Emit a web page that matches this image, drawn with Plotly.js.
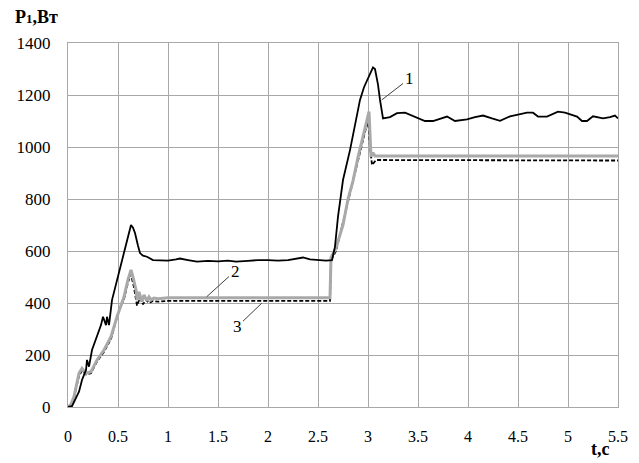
<!DOCTYPE html>
<html>
<head>
<meta charset="utf-8">
<script src="https://cdn.plot.ly/plotly-3.0.1.min.js"></script>
<style>html,body{margin:0;padding:0;background:#fff;}#chart{width:639px;height:463px;}</style>
</head>
<body>
<div id="chart"></div>
<script>
// Curve 1 (black solid)
const t1 = [0,0.04,0.08,0.11,0.14,0.18,0.19,0.21,0.24,0.29,0.33,0.35,0.38,0.39,0.41,0.44,0.49,0.54,0.59,0.61,0.63,0.65,0.67,0.70,0.72,0.75,0.79,0.85,0.92,1.0,1.08,1.12,1.2,1.29,1.4,1.5,1.6,1.68,1.8,1.9,2.0,2.1,2.2,2.3,2.35,2.42,2.5,2.58,2.64,2.67,2.70,2.75,2.82,2.87,2.92,2.96,3.0,3.03,3.05,3.07,3.1,3.12,3.15,3.22,3.29,3.37,3.45,3.5,3.57,3.65,3.72,3.79,3.87,3.93,3.99,4.07,4.15,4.24,4.32,4.42,4.5,4.59,4.65,4.7,4.79,4.85,4.9,4.97,5.09,5.14,5.19,5.25,5.35,5.42,5.47,5.5];
const p1 = [0,3,35,59,104,142,181,155,219,270,315,347,315,347,315,411,488,565,642,675,700,690,669,620,592,582,578,565,565,563,568,571,565,559,562,560,563,559,562,565,565,563,565,570,575,568,565,563,565,617,732,873,988,1078,1181,1230,1264,1295,1306,1300,1240,1181,1110,1115,1130,1132,1120,1110,1100,1100,1110,1117,1100,1103,1106,1115,1121,1110,1101,1118,1125,1132,1132,1117,1117,1128,1136,1132,1117,1100,1100,1118,1110,1115,1121,1110];
// Curve 2 (grey solid)
const t2 = [0,0.03,0.06,0.11,0.14,0.18,0.23,0.29,0.36,0.43,0.49,0.56,0.60,0.63,0.65,0.68,0.69,0.71,0.74,0.76,0.79,0.81,0.83,0.86,0.9,1.0,2.62,2.63,2.68,2.75,2.80,2.85,2.90,2.95,3.0,3.01,3.03,3.05,3.07,3.1,5.5];
const p2 = [0,10,40,130,149,130,136,181,219,270,347,424,490,527,500,450,411,443,405,431,408,423,412,419,416,420,420,575,612,700,800,870,960,1040,1120,1136,963,978,965,965,965];
// Curve 3 (black dashed)
const t3 = [0,0.03,0.06,0.11,0.14,0.18,0.23,0.29,0.36,0.43,0.51,0.56,0.60,0.63,0.66,0.69,0.72,0.75,0.78,0.81,0.85,0.9,1.0,2.62,2.63,2.68,2.80,2.90,3.0,3.02,3.04,3.08,5.5];
const p3 = [0,8,35,120,140,125,130,175,212,262,373,415,480,510,460,390,420,395,412,400,408,405,408,408,565,600,790,950,1105,1000,931,950,948];

const xTickVals = [0,0.5,1,1.5,2,2.5,3,3.5,4,4.5,5,5.5];
const xTickText = ["0","0.5","1","1.5","2","2.5","3","3.5","4","4.5","5","5.5"];
const yTickVals = [0,200,400,600,800,1000,1200,1400];
const yTickText = ["0","200","400","600","800","1000","1200","1400"];

const FONT = "Liberation Serif, Times New Roman, serif";
const GRID = "#a8a8a8";

const traces = [
  {x:t3, y:p3, mode:"lines", line:{color:"#000", width:1.8, dash:"4px,2px"}, hoverinfo:"skip"},
  {x:t2, y:p2, mode:"lines", line:{color:"#a9a9a9", width:3}, hoverinfo:"skip"},
  {x:t1, y:p1, mode:"lines", line:{color:"#000", width:1.8}, hoverinfo:"skip"}
];

const layout = {
  width:639, height:463,
  margin:{l:68, r:21, t:43, b:56},
  paper_bgcolor:"#fff", plot_bgcolor:"#fff",
  showlegend:false,
  font:{family:FONT, size:16, color:"#000"},
  xaxis:{range:[0,5.5], tickvals:xTickVals, ticktext:xTickText, showgrid:true, gridcolor:GRID, gridwidth:1,
         zeroline:false, showline:true, mirror:true, linecolor:GRID, linewidth:1, ticks:"", ticklabelstandoff:15,
         tickfont:{family:FONT, size:16, color:"#000"}},
  yaxis:{range:[0,1400], tickvals:yTickVals, ticktext:yTickText, showgrid:true, gridcolor:GRID, gridwidth:1,
         zeroline:false, showline:true, mirror:true, linecolor:GRID, linewidth:1, ticks:"", ticklabelstandoff:13,
         tickfont:{family:FONT, size:17, color:"#000"}},
  annotations:[
    {xref:"paper", yref:"paper", x:-0.058, y:1.071, text:"<b>P<span style='font-size:13px'>1</span>,Вт</b>", showarrow:false,
     font:{family:FONT, size:18, color:"#000"}, xanchor:"center", yanchor:"middle"},
    {xref:"paper", yref:"paper", x:0.968, y:-0.115, text:"<b>t,c</b>", showarrow:false,
     font:{family:FONT, size:18, color:"#000"}, xanchor:"center", yanchor:"middle"},
    {x:3.137, y:1181, ax:3.41, ay:1262, axref:"x", ayref:"y", text:"1", showarrow:true, arrowhead:0, arrowwidth:1, arrowcolor:"#404040", standoff:0,
     font:{family:FONT, size:17, color:"#000"}},
    {x:1.387, y:424, ax:1.67, ay:523, axref:"x", ayref:"y", text:"2", showarrow:true, arrowhead:0, arrowwidth:1, arrowcolor:"#404040", standoff:0,
     font:{family:FONT, size:17, color:"#000"}},
    {x:1.937, y:399, ax:1.69, ay:308, axref:"x", ayref:"y", text:"3", showarrow:true, arrowhead:0, arrowwidth:1, arrowcolor:"#404040", standoff:0,
     font:{family:FONT, size:17, color:"#000"}}
  ]
};

Plotly.newPlot("chart", traces, layout, {staticPlot:true, displayModeBar:false});
</script>
</body>
</html>
